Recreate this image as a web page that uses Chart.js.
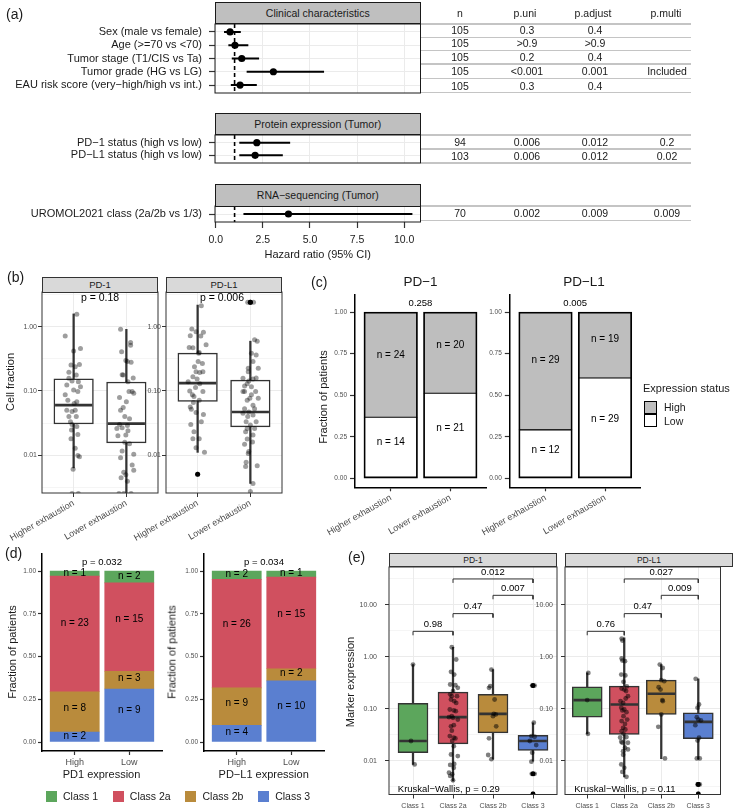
<!DOCTYPE html>
<html>
<head>
<meta charset="utf-8">
<script src="https://cdn.jsdelivr.net/npm/chart.js"></script>
<style>
html,body{margin:0;padding:0;background:#fff;}
#root{position:relative;width:737px;height:811px;overflow:hidden;background:#fff;font-family:"Liberation Sans",Arial,Helvetica,sans-serif;color:#1a1a1a;}
#root canvas{position:absolute;left:0;top:0;}
.t{position:absolute;white-space:nowrap;}
.strip{position:absolute;box-sizing:border-box;display:flex;align-items:center;justify-content:center;white-space:nowrap;color:#1a1a1a;}
.hl{position:absolute;background:#c4c4c4;height:1.5px;}
.legrow{position:absolute;display:flex;align-items:center;font-size:10.5px;line-height:11px;white-space:nowrap;}
.key{display:inline-block;width:11px;height:11px;margin-right:6px;}
.item{display:flex;align-items:center;margin-right:14.8px;}
</style>
</head>
<body>
<div id="root"></div>
<script>
// ================= DATA =================
// (a) forest plot
const clinLabels = ["Sex (male vs female)", "Age (>=70 vs <70)", "Tumor stage (T1/CIS vs Ta)", "Tumor grade (HG vs LG)", "EAU risk score (very\u2212high/high vs int.)"];
const clinHR = [0.76, 1.02, 1.38, 3.06, 1.29];
const clinLo = [0.44, 0.67, 0.85, 1.64, 0.80];
const clinHi = [1.33, 1.73, 2.30, 5.75, 2.18];
const protLabels = ["PD\u22121 status (high vs low)", "PD\u2212L1 status (high vs low)"];
const protHR = [2.18, 2.09];
const protLo = [1.25, 1.25];
const protHi = [3.95, 3.56];
const rnaLabels = ["UROMOL2021 class (2a/2b vs 1/3)"];
const rnaHR = [3.86];
const rnaLo = [1.47];
const rnaHi = [10.44];
const hrTicks = [0, 2.5, 5, 7.5, 10];
const tableHeader = ["n", "p.uni", "p.adjust", "p.multi"];
const clinTable = [["105", "0.3", "0.4", ""], ["105", ">0.9", ">0.9", ""], ["105", "0.2", "0.4", ""], ["105", "<0.001", "0.001", "Included"], ["105", "0.3", "0.4", ""]];
const protTable = [["94", "0.006", "0.012", "0.2"], ["103", "0.006", "0.012", "0.02"]];
const rnaTable = [["70", "0.002", "0.009", "0.009"]];

// (b) cell fraction boxplots  [lo, q1, median, q3, hi]
const bCats = ["Higher exhaustion", "Lower exhaustion"];
const bPD1Box = [[0.0063, 0.0305, 0.060, 0.155, 1.6], [0.002, 0.0155, 0.031, 0.138, 0.92]];
const bPDL1Box = [[0.011, 0.069, 0.133, 0.39, 2.2], [0.0036, 0.0275, 0.047, 0.148, 0.60]];
const bPD1HighVals = [1.58,0.72,0.46,0.42,0.26,0.255,0.196,0.178,0.143,0.14,0.124,0.104,0.098,0.087,0.072,0.068,0.05,0.048,0.04,0.033,0.03,0.028,0.0245,0.021,0.0127,0.0098,0.0094,0.006,0.0025,0.0025,0.064,0.116,0.05,0.04,0.018,0.158,0.24];
const bPD1HighJit  = [0.06,-0.16,0.13,0,0.11,-0.05,-0.09,0.05,-0.03,0.09,-0.13,0,0.08,-0.16,-0.11,0.06,0.03,-0.03,-0.09,-0.06,-0.03,0.06,-0.04,0.08,0.03,0.08,0.11,-0.01,-0.03,0.09,0.01,0.13,-0.13,0.05,-0.05,-0.09,0.03];
const bPD1LowVals = [0.92,0.57,0.52,0.41,0.30,0.29,0.18,0.178,0.14,0.098,0.079,0.092,0.05,0.055,0.04,0.03,0.026,0.0267,0.029,0.024,0.0205,0.015,0.0158,0.0116,0.0103,0.0091,0.007,0.0054,0.0058,0.0049,0.0044,0.0039,0.0025,0.0025,0.0025,0.28,0.068,0.037,0.02,0.098,0.16];
const bPD1LowJit  = [-0.11,0.08,0.08,-0.09,-0.01,0.02,-0.08,-0.06,0.03,0.11,-0.13,0.14,-0.11,-0.06,-0.03,-0.13,-0.18,-0.08,0.02,0.03,-0.01,0.06,-0.03,-0.08,0.14,-0.11,0.11,-0.05,0.14,-0.01,-0.10,0.02,-0.14,-0.05,0.09,0.09,0,0.06,-0.16,0.05,0.13];
const bPDL1HighVals = [2.15,0.93,0.845,0.826,0.73,0.475,0.48,0.40,0.39,0.29,0.27,0.2,0.195,0.2,0.167,0.154,0.14,0.113,0.087,0.082,0.066,0.056,0.052,0.046,0.033,0.030,0.023,0.018,0.011,0.13,0.098,0.24,0.53,0.72,0.013,0.043,0.1,0.072,0.018,0.005];
const bPDL1HighJit  = [0.07,-0.11,-0.03,0.11,-0.14,-0.09,-0.16,0.03,0.02,0.01,0.09,-0.03,0.04,0.10,-0.09,-0.01,-0.18,-0.04,-0.10,-0.07,-0.08,-0.14,-0.12,-0.03,0.07,-0.13,-0.07,0.03,0.13,0.04,0.1,-0.06,0.16,0.06,-0.03,0.11,-0.15,0.03,-0.09,0];
const bPDL1LowVals = [0.63,0.60,0.39,0.365,0.29,0.226,0.2,0.158,0.154,0.143,0.13,0.117,0.098,0.098,0.077,0.072,0.06,0.053,0.045,0.04,0.042,0.033,0.0295,0.026,0.023,0.0205,0.0178,0.0147,0.0113,0.0106,0.0077,0.0068,0.0066,0.0036,0.0027,0.16,0.12,0.087,0.053,0.047,0.033,0.026,0.016,0.098,0.077,0.226,2.43,2.43];
const bPDL1LowJit  = [0.08,0.13,0.02,0.11,0.05,0.15,-0.04,-0.14,0.05,-0.03,-0.06,0.02,-0.11,0.10,-0.01,-0.06,0.05,-0.11,-0.14,-0.05,0.05,-0.08,0,0.08,-0.09,0.05,-0.06,-0.11,-0.03,-0.04,-0.08,0.13,-0.09,0.05,0,0.11,-0.11,0.02,0.08,-0.03,0.11,-0.06,0.04,-0.14,0.15,-0.04,-0.05,0.06];
const bPD1Out = [[], []];
const bPDL1Out = [[0.005], [2.43, 2.43]];
const bMajorTicks = [0.01, 0.1, 1];
const bMinorTicks = [0.003162, 0.03162, 0.3162, 3.162];

// (c) expression status vs exhaustion (counts)
const cCats = ["Higher exhaustion", "Lower exhaustion"];
const cPD1High = [24, 20];
const cPD1Low = [14, 21];
const cPDL1High = [29, 19];
const cPDL1Low = [12, 29];
const cPvals = ["0.258", "0.005"];
const fracTicks = [0, 0.25, 0.5, 0.75, 1];

// (d) UROMOL class vs expression (counts)
const dCats = ["High", "Low"];
const classNames = ["Class 1", "Class 2a", "Class 2b", "Class 3"];
const dPD1Class1 = [1, 2];
const dPD1Class2a = [23, 15];
const dPD1Class2b = [8, 3];
const dPD1Class3 = [2, 9];
const dPDL1Class1 = [2, 1];
const dPDL1Class2a = [26, 15];
const dPDL1Class2b = [9, 2];
const dPDL1Class3 = [4, 10];
const dPvals = ["p = 0.032", "p = 0.034"];

// (e) marker expression by class  [lo, q1, median, q3, hi]
const eCats = ["Class 1", "Class 2a", "Class 2b", "Class 3"];
const ePD1Box = [[0.0085, 0.0143, 0.024, 0.127, 0.71], [0.0041, 0.0212, 0.069, 0.209, 1.53], [0.0107, 0.0345, 0.080, 0.189, 0.57], [0.0098, 0.0158, 0.024, 0.0307, 0.054]];
const ePDL1Box = [[0.033, 0.069, 0.147, 0.265, 0.49], [0.0049, 0.032, 0.121, 0.273, 2.32], [0.011, 0.078, 0.195, 0.356, 0.71], [0.0107, 0.0265, 0.056, 0.084, 0.378]];
const ePD1Vals = [
  [0.71, 0.024, 0.0085],
  [1.53,0.89,0.515,0.457,0.294,0.285,0.253,0.219,0.175,0.175,0.151,0.14,0.13,0.097,0.093,0.072,0.069,0.067,0.062,0.046,0.0485,0.038,0.0298,0.0277,0.0269,0.024,0.0191,0.0123,0.0132,0.0087,0.0083,0.0073,0.0059,0.0055,0.0051,0.0042,0.09,0.19],
  [0.57,0.253,0.273,0.151,0.078,0.080,0.046,0.072,0.027,0.0129,0.0107],
  [0.28,0.28,0.054,0.0298,0.029,0.02,0.024,0.0143,0.0096,0.0056,0.0056,0.0023]
];
const ePD1Jit = [
  [0, -0.05, 0.04],
  [-0.03,0.08,-0.05,0.03,-0.07,0.06,0.12,0,-0.03,0.1,-0.05,0.03,0.08,-0.08,0.02,-0.03,-0.1,0,0.12,-0.05,0.02,-0.03,-0.08,0.02,0.06,-0.02,0.02,0.12,-0.05,0.03,-0.07,0.02,-0.1,-0.02,-0.07,0,0.07,-0.07],
  [-0.04,-0.1,-0.07,0.04,0.07,0.02,0.08,0,-0.1,-0.12,-0.04],
  [-0.02,0.04,0.02,-0.04,0.04,0.08,-0.08,-0.02,-0.04,-0.03,0.04,0]
];
const ePDL1Vals = [
  [0.49, 0.147, 0.033],
  [2.25,2.06,0.93,0.85,0.826,0.457,0.44,0.33,0.27,0.246,0.235,0.175,0.158,0.13,0.105,0.097,0.093,0.086,0.072,0.058,0.051,0.043,0.037,0.033,0.0285,0.0232,0.0222,0.0222,0.0178,0.0153,0.0165,0.0085,0.0073,0.0061,0.0049,0.22,0.14,0.062,0.028,0.04,0.013],
  [0.71,0.61,0.356,0.34,0.26,0.235,0.147,0.14,0.078,0.045,0.0111],
  [0.378,0.121,0.105,0.069,0.06,0.0485,0.062,0.0277,0.0245,0.0111,0.0111,0.0035,0.0035,0.0023]
];
const ePDL1Jit = [
  [0.03, 0, 0.02],
  [-0.07,-0.05,-0.07,-0.05,0.02,-0.08,0.03,-0.02,0.07,-0.07,0,0.1,0.04,-0.03,-0.08,0,-0.05,0.06,-0.02,-0.07,0.02,-0.03,-0.07,-0.02,0.06,-0.08,-0.05,0.1,0.02,-0.03,0.1,-0.08,0,-0.05,0.06,0.05,-0.1,0.08,-0.11,0.03,-0.03],
  [-0.04,0.04,0,0.08,-0.07,-0.02,0.03,0.04,0,-0.08,0.1],
  [-0.07,0.02,-0.02,-0.04,0.07,-0.08,0,0.02,-0.02,-0.04,0.04,-0.02,0.04,0]
];
const ePD1Out = [[], [], [], [0.28, 0.28, 0.0056, 0.0056, 0.0023]];
const ePDL1Out = [[], [], [], [0.0035, 0.0035, 0.0023]];
const eBracketPairs = [[1, 2], [2, 3], [3, 4], [2, 4]];
const eBracketY = [3.1, 6.8, 15.3, 31.6];
const ePD1BracketP = ["0.98", "0.47", "0.007", "0.012"];
const ePDL1BracketP = ["0.76", "0.47", "0.009", "0.027"];
const eKruskal = ["Kruskal\u2212Wallis, p = 0.29", "Kruskal\u2212Wallis, p = 0.11"];
const eMajorTicks = [0.01, 0.1, 1, 10];
const eMinorTicks = [0.003162, 0.03162, 0.3162, 3.162, 31.62];

// ================= STYLE / LAYOUT =================
const W = 737, H = 811;
const FONT = '"Liberation Sans", Arial, Helvetica, sans-serif';
const classColors = ["#5ca65c", "#d0505f", "#b98b3c", "#5a7fd0"];
const highGray = "#bebebe";
Chart.defaults.font.family = FONT;
Chart.defaults.color = '#1a1a1a';
Chart.defaults.animation = false;
Chart.defaults.events = [];
Chart.defaults.plugins.legend.display = false;
Chart.defaults.plugins.tooltip.enabled = false;

const root = document.getElementById('root');
function mkCanvas() {
  const c = document.createElement('canvas');
  c.width = W; c.height = H; c.style.width = W + 'px'; c.style.height = H + 'px';
  root.appendChild(c); return c;
}
function zeroPad(s) { s.paddingLeft = 0; s.paddingRight = 0; s.paddingTop = 0; s.paddingBottom = 0; }
function fixW(w) { return s => { s.width = w; zeroPad(s); }; }
function fixH(h) { return s => { s.height = h; zeroPad(s); }; }
function layoutFor(ca) { return { padding: { left: 0, top: ca.t, right: W - ca.r, bottom: 0 } }; }
function textPlugin(items) {
  return { id: 'txt', afterDatasetsDraw(chart) {
    const ctx = chart.ctx, xs = chart.scales.x, ys = chart.scales.y;
    items.forEach(it => {
      ctx.save();
      ctx.font = (it.size || 10) + 'px ' + FONT;
      ctx.fillStyle = it.color || '#000';
      ctx.textAlign = it.align || 'center';
      ctx.textBaseline = 'middle';
      ctx.fillText(it.text, xs.getPixelForValue(it.x) + (it.dx || 0), ys.getPixelForValue(it.y) + (it.dy || 0));
      ctx.restore();
    });
  } };
}
function framePlugin(color, width) {
  return { id: 'frame', afterDraw(chart) {
    const a = chart.chartArea, ctx = chart.ctx;
    ctx.save(); ctx.strokeStyle = color; ctx.lineWidth = width;
    ctx.strokeRect(a.left, a.top, a.right - a.left, a.bottom - a.top); ctx.restore();
  } };
}
function txt(s, x, y, o) {
  o = o || {};
  const d = document.createElement('div'); d.className = 't'; d.textContent = s;
  const size = o.size || 11;
  d.style.fontSize = size + 'px'; d.style.lineHeight = size + 'px';
  d.style.left = x + 'px'; d.style.top = y + 'px'; d.style.color = o.color || '#1a1a1a';
  const ax = o.align === 'left' ? '0' : (o.align === 'right' ? '-100%' : '-50%');
  d.style.transform = 'translate(' + ax + ',-50%)' + (o.rot ? ' rotate(' + o.rot + 'deg)' : '');
  root.appendChild(d); return d;
}
function strip(s, l, t, w, h, bg, size, border) {
  const d = document.createElement('div'); d.className = 'strip'; d.textContent = s;
  d.style.left = l + 'px'; d.style.top = t + 'px'; d.style.width = w + 'px'; d.style.height = h + 'px';
  d.style.background = bg; d.style.fontSize = size + 'px'; d.style.border = '1px solid ' + border;
  root.appendChild(d);
}
function hline(x1, x2, y) {
  const d = document.createElement('div'); d.className = 'hl';
  d.style.left = x1 + 'px'; d.style.width = (x2 - x1) + 'px'; d.style.top = (y - 0.75) + 'px';
  root.appendChild(d);
}

// ---------- forest ----------
function forest(ca, labels, hr, lo, hi, showX) {
  const n = labels.length, rows = labels.map((_, i) => i + 1);
  const ds = [{ type: 'line', data: [{ x: 1, y: 0.4 }, { x: 1, y: n + 0.6 }], borderColor: '#000', borderWidth: 1.6, borderDash: [4, 3], pointRadius: 0, order: 3 }];
  rows.forEach((r, i) => ds.push({ type: 'line', data: [{ x: lo[i], y: r }, { x: hi[i], y: r }], borderColor: '#000', borderWidth: 2, pointRadius: 0, order: 2 }));
  ds.push({ type: 'scatter', data: rows.map((r, i) => ({ x: hr[i], y: r })), backgroundColor: '#000', borderWidth: 0, pointRadius: 3.6, order: 1 });
  new Chart(mkCanvas(), {
    type: 'scatter', data: { datasets: ds }, plugins: [framePlugin('#1a1a1a', 1)],
    options: { responsive: false, layout: layoutFor(ca), scales: {
      x: { type: 'linear', offset: false, min: -0.04, max: 10.87, afterBuildTicks: s => { s.ticks = hrTicks.map(v => ({ value: v })); }, afterFit: fixH(H - ca.b),
        ticks: { display: showX, autoSkip: false, maxRotation: 0, callback: v => Number(v).toFixed(1), font: { size: 10.5 }, color: '#222', padding: 6 },
        grid: { offset: false, color: '#ebebeb', lineWidth: 1, drawTicks: showX, tickLength: 6, tickColor: '#333', tickWidth: 1.2 }, border: { display: false } },
      y: { type: 'linear', offset: false, reverse: true, min: 0.4, max: n + 0.6, afterBuildTicks: s => { s.ticks = rows.map(v => ({ value: v })); }, afterFit: fixW(ca.l),
        ticks: { autoSkip: false, callback: v => labels[Math.round(v) - 1], font: { size: 11 }, color: '#1a1a1a', padding: 7 },
        grid: { offset: false, color: '#ebebeb', lineWidth: 1, tickLength: 6, tickColor: '#333', tickWidth: 1.2 }, border: { display: false } }
    } }
  });
}

// ---------- boxplot ----------
function boxChart(ca, cats, box, vals, jit, outl, fills, o) {
  const n = cats.length, xs = cats.map((_, i) => i + 1);
  const unit = (ca.r - ca.l) / (n + 0.2);
  const boxW = 0.75 * unit;
  const pts = [];
  vals.forEach((arr, ci) => arr.forEach((v, k) => pts.push({ x: ci + 1 + jit[ci][k], y: v })));
  const ol = [];
  outl.forEach((arr, ci) => arr.forEach(v => ol.push({ x: ci + 1, y: v })));
  const isMaj = v => o.majors.some(m => Math.abs(Math.log10(v) - Math.log10(m)) < 1e-6);
  const ds = [
    { type: 'bar', data: xs.map((x, i) => ({ x, y: [box[i][0], box[i][1]] })), backgroundColor: '#333', borderWidth: 0, barThickness: 1.6, grouped: false, order: 9 },
    { type: 'bar', data: xs.map((x, i) => ({ x, y: [box[i][3], box[i][4]] })), backgroundColor: '#333', borderWidth: 0, barThickness: 1.6, grouped: false, order: 9 },
    { type: 'bar', data: xs.map((x, i) => ({ x, y: [box[i][1], box[i][3]] })), backgroundColor: fills, borderColor: '#333', borderWidth: 1.5, borderSkipped: false, barThickness: boxW, grouped: false, order: 8 },
    { type: 'scatter', data: xs.map((x, i) => ({ x, y: box[i][2] })), pointStyle: 'line', pointRadius: boxW / 2 - 1.2, borderWidth: 2.7, pointBorderWidth: 2.7, borderColor: '#333', pointBorderColor: '#333', order: 7 },
    { type: 'scatter', data: pts, pointRadius: o.pr, backgroundColor: o.pc, borderWidth: 0, order: 6, clip: 0 },
    { type: 'scatter', data: ol, pointRadius: o.pr, backgroundColor: '#000', borderWidth: 0, order: 5, clip: 0 }
  ];
  const items = (o.texts || []).slice();
  if (o.brackets) {
    o.brackets.pairs.forEach((p, i) => {
      const y = o.brackets.ys[i], yt = y * 0.84;
      ds.push({ type: 'line', data: [{ x: p[0], y: yt }, { x: p[0], y: y }, { x: p[1], y: y }, { x: p[1], y: yt }], borderColor: '#333', borderWidth: 1, pointRadius: 0, order: 4 });
      items.push({ x: (p[0] + p[1]) / 2, y: y, dy: -7, text: o.brackets.labels[i], size: 9.5 });
    });
  }
  new Chart(mkCanvas(), {
    type: 'scatter', data: { datasets: ds }, plugins: [textPlugin(items), framePlugin('#333', 1)],
    options: { responsive: false, layout: layoutFor(ca), scales: {
      x: { type: 'linear', offset: false, min: 0.4, max: n + 0.6, afterBuildTicks: s => { s.ticks = xs.map(v => ({ value: v })); }, afterFit: fixH(H - ca.b),
        ticks: { autoSkip: false, callback: v => cats[Math.round(v) - 1], font: { size: o.xFont }, color: '#4d4d4d', minRotation: o.rot, maxRotation: o.rot, padding: o.xPad },
        grid: { offset: false, color: '#ebebeb', lineWidth: 1, tickLength: 4, tickColor: '#333', tickWidth: 1 }, border: { display: false } },
      y: { type: 'logarithmic', min: o.yMin, max: o.yMax,
        afterBuildTicks: s => { s.ticks = o.majors.concat(o.minors).sort((a, b) => a - b).map(v => ({ value: v })); }, afterFit: fixW(ca.l),
        ticks: { autoSkip: false, font: { size: 7 }, color: '#4d4d4d', padding: o.yPad, callback: v => isMaj(v) ? Number(v).toFixed(2) : '' },
        grid: { color: '#ebebeb', lineWidth: c => (c.tick && isMaj(c.tick.value)) ? 1 : 0.5, tickLength: 4, tickWidth: 1,
          tickColor: c => (c.tick && isMaj(c.tick.value)) ? '#333' : 'rgba(0,0,0,0)' }, border: { display: false } }
    } }
  });
}

// ---------- stacked fraction bars ----------
function fracChart(ca, cats, layers, o) {
  const xs = cats.map((_, i) => i + 1);
  const barW = 0.9 * (ca.r - ca.l) / 2.2;
  const totals = xs.map((_, i) => layers.reduce((s, L) => s + L.counts[i], 0));
  const cum = xs.map(() => 0);
  const ds = [], items = [];
  layers.forEach((L, li) => {
    const data = xs.map((x, i) => {
      const lo = cum[i] / totals[i]; cum[i] += L.counts[i]; const hi = cum[i] / totals[i];
      return { x, y: [lo, hi] };
    });
    const isTop = li === layers.length - 1, isBot = li === 0;
    ds.push({ type: 'bar', data, backgroundColor: L.color, borderColor: '#000',
      borderWidth: o.bw ? { left: o.bw, right: o.bw, top: isTop ? o.bw : o.bw / 2, bottom: isBot ? o.bw : o.bw / 2 } : 0,
      borderSkipped: false, barThickness: barW, grouped: false });
    data.forEach((d, i) => { if (L.counts[i] > 0) items.push({ x: d.x, y: d.y[0] + 0.59 * (d.y[1] - d.y[0]), text: 'n = ' + L.counts[i], size: o.nSize }); });
  });
  items.push({ x: 1.5, y: 1.05, text: o.p, size: 9.5 });
  new Chart(mkCanvas(), {
    type: 'bar', data: { datasets: ds }, plugins: [textPlugin(items)],
    options: { responsive: false, layout: layoutFor(ca), scales: {
      x: { type: 'linear', offset: false, min: 0.4, max: 2.6, afterBuildTicks: s => { s.ticks = xs.map(v => ({ value: v })); }, afterFit: fixH(H - ca.b),
        ticks: { autoSkip: false, callback: v => cats[Math.round(v) - 1], font: { size: o.xFont }, color: '#4d4d4d', minRotation: o.rot, maxRotation: o.rot, padding: o.xPad },
        grid: { offset: false, drawOnChartArea: false, tickLength: 4, tickColor: '#333', tickWidth: 1.2 }, border: { display: true, color: '#000', width: 1.5 } },
      y: { type: 'linear', offset: false, min: -0.0525, max: 1.1025, afterBuildTicks: s => { s.ticks = fracTicks.map(v => ({ value: v })); }, afterFit: fixW(ca.l),
        ticks: { autoSkip: false, callback: v => Number(v).toFixed(2), font: { size: 6.5 }, color: '#4d4d4d', padding: o.yPad },
        grid: { offset: false, drawOnChartArea: false, tickLength: o.ytl, tickColor: '#333', tickWidth: 1.2 }, border: { display: true, color: '#000', width: 1.5 } }
    } }
  });
}

// ================= PANEL (a) =================
const fa1 = { l: 215, r: 420.5, t: 24, b: 93 };
const fa2 = { l: 215, r: 420.5, t: 135, b: 163 };
const fa3 = { l: 215, r: 420.5, t: 206, b: 222 };
forest(fa1, clinLabels, clinHR, clinLo, clinHi, false);
forest(fa2, protLabels, protHR, protLo, protHi, false);
forest(fa3, rnaLabels, rnaHR, rnaLo, rnaHi, true);

// ================= PANEL (b) =================
const bL = { l: 42, r: 158, t: 292, b: 493 };
const bR = { l: 166, r: 282, t: 292, b: 493 };
const bOpts = { yMin: 0.00255, yMax: 3.52, majors: bMajorTicks, minors: bMinorTicks, pr: 2.5, pc: 'rgba(0,0,0,0.38)', xFont: 9, rot: 30, xPad: 1, yPad: 1 };
boxChart(bL, bCats, bPD1Box, [bPD1HighVals, bPD1LowVals], [bPD1HighJit, bPD1LowJit], bPD1Out, ['#fff', '#fff'],
  Object.assign({}, bOpts, { texts: [{ x: 1.5, y: 2.8, text: 'p = 0.18', size: 10.5 }] }));
boxChart(bR, bCats, bPDL1Box, [bPDL1HighVals, bPDL1LowVals], [bPDL1HighJit, bPDL1LowJit], bPDL1Out, ['#fff', '#fff'],
  Object.assign({}, bOpts, { texts: [{ x: 1.5, y: 2.8, dx: -2, text: 'p = 0.006', size: 10.5 }] }));

// ================= PANEL (c) =================
const cL = { l: 355, r: 486, t: 295, b: 487.3 };
const cR = { l: 509.8, r: 640.7, t: 295, b: 487.3 };
const cOpts = { bw: 1.8, nSize: 10, xFont: 9, rot: 30, xPad: 1, yPad: 3, ytl: 5 };
fracChart(cL, cCats, [{ counts: cPD1Low, color: '#ffffff' }, { counts: cPD1High, color: highGray }], Object.assign({}, cOpts, { p: cPvals[0] }));
fracChart(cR, cCats, [{ counts: cPDL1Low, color: '#ffffff' }, { counts: cPDL1High, color: highGray }], Object.assign({}, cOpts, { p: cPvals[1] }));

// ================= PANEL (d) =================
const dL = { l: 42, r: 162, t: 553.5, b: 751 };
const dR = { l: 204, r: 324, t: 553.5, b: 751 };
const dOpts = { bw: 0, nSize: 10, xFont: 9, rot: 0, xPad: 2, yPad: 2, ytl: 4 };
fracChart(dL, dCats, [{ counts: dPD1Class3, color: classColors[3] }, { counts: dPD1Class2b, color: classColors[2] }, { counts: dPD1Class2a, color: classColors[1] }, { counts: dPD1Class1, color: classColors[0] }], Object.assign({}, dOpts, { p: dPvals[0] }));
fracChart(dR, dCats, [{ counts: dPDL1Class3, color: classColors[3] }, { counts: dPDL1Class2b, color: classColors[2] }, { counts: dPDL1Class2a, color: classColors[1] }, { counts: dPDL1Class1, color: classColors[0] }], Object.assign({}, dOpts, { p: dPvals[1] }));

// ================= PANEL (e) =================
const eL = { l: 389, r: 557, t: 567, b: 795 };
const eR = { l: 565, r: 733, t: 567, b: 795 };
const eOpts = { yMin: 0.00224, yMax: 53.7, majors: eMajorTicks, minors: eMinorTicks, pr: 2.4, pc: 'rgba(0,0,0,0.5)', xFont: 7, rot: 0, xPad: 3, yPad: 8 };
boxChart(eL, eCats, ePD1Box, ePD1Vals, ePD1Jit, ePD1Out, classColors,
  Object.assign({}, eOpts, { texts: [{ x: 0.62, y: 0.0028, text: eKruskal[0], align: 'left', size: 9.5 }], brackets: { pairs: eBracketPairs, ys: eBracketY, labels: ePD1BracketP } }));
boxChart(eR, eCats, ePDL1Box, ePDL1Vals, ePDL1Jit, ePDL1Out, classColors,
  Object.assign({}, eOpts, { texts: [{ x: 0.65, y: 0.0028, text: eKruskal[1], align: 'left', size: 9.5 }], brackets: { pairs: eBracketPairs, ys: eBracketY, labels: ePDL1BracketP } }));

// ================= HTML TEXT / DECORATION =================
// (a)
txt('(a)', 6, 14, { size: 14, align: 'left' });
strip('Clinical characteristics', 214.5, 1.7, 206.5, 22.8, '#bfbfbf', 10.5, '#1a1a1a');
strip('Protein expression (Tumor)', 214.5, 112.7, 206.5, 22.8, '#bfbfbf', 10.5, '#1a1a1a');
strip('RNA\u2212sequencing (Tumor)', 214.5, 183.5, 206.5, 23, '#bfbfbf', 10.5, '#1a1a1a');
txt('Hazard ratio (95% CI)', 317.7, 254, { size: 11 });
const colX = [460, 527, 595, 667];
const headX = [460, 525, 593, 666];
tableHeader.forEach((h, i) => txt(h, headX[i], 13.3, { size: 10.5 }));
function tableRows(rows, ys) { rows.forEach((r, ri) => r.forEach((c, ci) => { if (c) txt(c, colX[ci], ys[ri], { size: 10.5 }); })); }
tableRows(clinTable, [29.6, 43.2, 57, 71.2, 85.5]);
tableRows(protTable, [142.2, 156.2]);
tableRows(rnaTable, [213]);
[24, 37.3, 50.7, 64, 78.3, 92.7, 135, 149, 163, 206, 220.7].forEach(y => hline(421, 691, y));

// (b)
txt('(b)', 7, 277, { size: 14, align: 'left' });
strip('PD-1', bL.l, 277, bL.r - bL.l, 15.5, '#d9d9d9', 9.5, '#333');
strip('PD-L1', bR.l, 277, bR.r - bR.l, 15.5, '#d9d9d9', 9.5, '#333');
txt('Cell fraction', 10, 382, { size: 11, rot: -90 });

// (c)
txt('(c)', 311, 282, { size: 14, align: 'left' });
txt('PD\u22121', 420.5, 282, { size: 13.5 });
txt('PD\u2212L1', 584, 282, { size: 13.5 });
txt('Fraction of patients', 322.7, 397, { size: 11, rot: -90 });
txt('Expression status', 643, 388, { size: 11, align: 'left' });
(function () {
  const k1 = document.createElement('div');
  k1.style.cssText = 'position:absolute;left:643.5px;top:400.7px;width:13.5px;height:13.5px;box-sizing:border-box;border:1.8px solid #000;background:' + highGray;
  const k2 = document.createElement('div');
  k2.style.cssText = 'position:absolute;left:643.5px;top:413.8px;width:13.5px;height:13.5px;box-sizing:border-box;border:1.8px solid #000;background:#fff';
  root.appendChild(k1); root.appendChild(k2);
})();
txt('High', 664, 407.3, { size: 10.5, align: 'left' });
txt('Low', 664, 420.7, { size: 10.5, align: 'left' });

// (d)
txt('(d)', 5, 553, { size: 14, align: 'left' });
txt('Fraction of patients', 11.7, 652, { size: 11, rot: -90 });
txt('Fraction of patients', 171.7, 652, { size: 11, rot: -90 });
txt('PD1 expression', 101.5, 774, { size: 11 });
txt('PD\u2212L1 expression', 263.7, 774, { size: 11 });
(function () {
  const row = document.createElement('div'); row.className = 'legrow';
  row.style.left = '46px'; row.style.top = '790.5px';
  classNames.forEach((nm, i) => {
    const it = document.createElement('div'); it.className = 'item';
    const k = document.createElement('span'); k.className = 'key'; k.style.background = classColors[i];
    const s = document.createElement('span'); s.textContent = nm;
    it.appendChild(k); it.appendChild(s); row.appendChild(it);
  });
  root.appendChild(row);
})();

// (e)
txt('(e)', 348, 557, { size: 14, align: 'left' });
strip('PD-1', eL.l, 553.3, eL.r - eL.l, 14.2, '#d9d9d9', 8.5, '#333');
strip('PD-L1', eR.l, 553.3, eR.r - eR.l, 14.2, '#d9d9d9', 8.5, '#333');
txt('Marker expression', 350, 682, { size: 11, rot: -90 });
</script>
</body>
</html>
